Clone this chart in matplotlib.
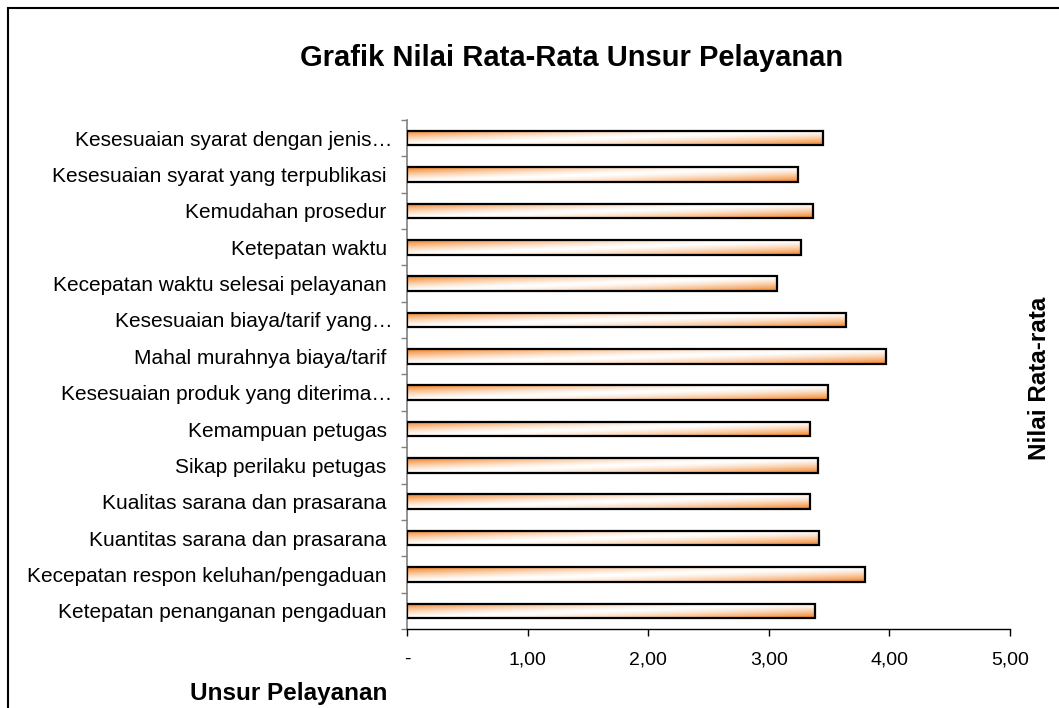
import numpy as np
import matplotlib
matplotlib.use("Agg")
import matplotlib.pyplot as plt
from matplotlib.patches import Rectangle

plt.rcParams['font.family'] = ['Liberation Sans', 'DejaVu Sans']

##  Data (top to bottom as in the chart)
unsur = ['Kesesuaian syarat dengan jenis…',
         'Kesesuaian syarat yang terpublikasi ',
         'Kemudahan prosedur ',
         'Ketepatan waktu ',
         'Kecepatan waktu selesai pelayanan ',
         'Kesesuaian biaya/tarif yang…',
         'Mahal murahnya biaya/tarif ',
         'Kesesuaian produk yang diterima…',
         'Kemampuan petugas ',
         'Sikap perilaku petugas ',
         'Kualitas sarana dan prasarana ',
         'Kuantitas sarana dan prasarana ',
         'Kecepatan respon keluhan/pengaduan ',
         'Ketepatan penanganan pengaduan ']
nilai = [3.45, 3.24, 3.37, 3.27, 3.07, 3.64, 3.97, 3.49,
         3.34, 3.41, 3.34, 3.42, 3.80, 3.38]
xticks = [0, 1, 2, 3, 4, 5]
xticklabels = ['-', '1,00', '2,00', '3,00', '4,00', '5,00']

# bottom-up order for plotting
labels = unsur[::-1]
vals = nilai[::-1]
pos = np.arange(len(vals))
h = 0.40

##  diagonal orange/white gradient like the excel fill
gx, gy = np.meshgrid(np.linspace(0, 1, 300), np.linspace(0, 1, 30))
w = np.clip(np.abs(gx + gy - 1), 0, 1) ** 1.4
orange = np.array([0.95, 0.50, 0.12])
grad = np.ones((30, 300, 3)) * (1 - w[..., None]) + orange * w[..., None]

fig = plt.figure(figsize=(10.59, 7.08), dpi=100)
ax = fig.add_axes([0.3843, 0.1116, 0.5694, 0.7189])

for p, v in zip(pos, vals):
    ax.imshow(grad, extent=(0, v, p - h / 2, p + h / 2), origin='upper',
              aspect='auto', interpolation='bilinear', zorder=2)
    ax.add_patch(Rectangle((0, p - h / 2), v, h, fill=False,
                           edgecolor='black', linewidth=1.6, zorder=3))

ax.set_xlim(0, 5)
ax.set_ylim(-0.5, len(vals) - 0.5)

ax.set_yticks(pos)
ax.set_yticklabels(labels, fontsize=15)
ax.set_yticks(np.arange(-0.5, len(vals)), minor=True)
ax.tick_params(axis='y', which='major', length=0, pad=10.5)
ax.tick_params(axis='y', which='minor', length=4, color='#808080', width=1)

ax.set_xticks(xticks)
ax.set_xticklabels(xticklabels, fontsize=14)
ax.tick_params(axis='x', length=5, width=1, color='black', pad=11)

for s in ['top', 'right']:
    ax.spines[s].set_visible(False)
ax.spines['left'].set_color('#808080')
ax.spines['left'].set_linewidth(1.2)
ax.spines['bottom'].set_linewidth(1.0)

fig.text(0.540, 0.907, 'Grafik Nilai Rata-Rata Unsur Pelayanan',
         ha='center', va='baseline', fontsize=21, fontweight='bold')
fig.text(0.982, 0.466, 'Nilai Rata-rata', rotation=90,
         ha='center', va='center', fontsize=17.5, fontweight='bold')
fig.text(0.3654, 0.012, 'Unsur Pelayanan',
         ha='right', va='baseline', fontsize=17.5, fontweight='bold')

# outer chart border
fig.patches.append(Rectangle((8 / 1059, -0.1), 1.2, 1.1 - 8 / 708,
                             transform=fig.transFigure, fill=False,
                             edgecolor='black', linewidth=1.5))

fig.savefig('out.png', dpi=100)
